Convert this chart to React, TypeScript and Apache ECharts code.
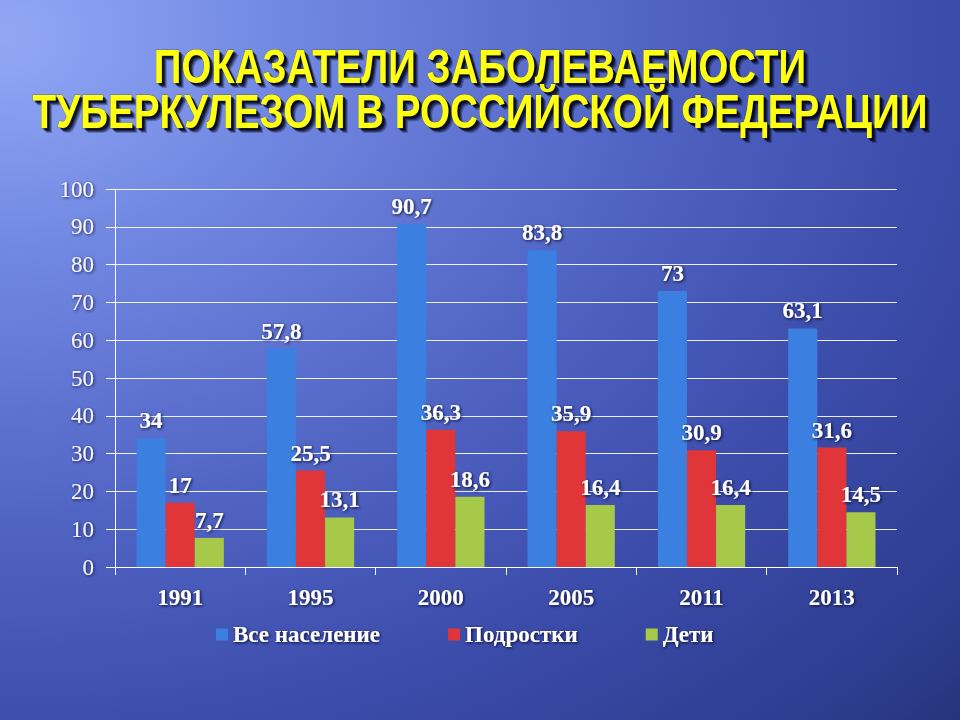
import React, { useEffect, useRef } from "react";
import * as echarts from "echarts";

const titleLines = ["ПОКАЗАТЕЛИ ЗАБОЛЕВАЕМОСТИ", "ТУБЕРКУЛЕЗОМ В РОССИЙСКОЙ ФЕДЕРАЦИИ"];
const years = ["1991", "1995", "2000", "2005", "2011", "2013"];
const seriesNames = ["Все население", "Подростки", "Дети"];
const allPopulation = [34, 57.8, 90.7, 83.8, 73, 63.1];
const teenagers = [17, 25.5, 36.3, 35.9, 30.9, 31.6];
const children = [7.7, 13.1, 18.6, 16.4, 16.4, 14.5];
const yMin = 0;
const yMax = 100;
const yInterval = 10;

const colors = ["#3b7fe0", "#e0363a", "#a6c94a"];
const serif = "'Liberation Serif', 'Times New Roman', serif";

const labelStyle = {
  color: "#ffffff",
  fontFamily: serif,
  fontWeight: "bold" as const,
  fontSize: 23,
  textShadowColor: "rgba(10,10,40,0.95)",
  textShadowBlur: 3,
  textShadowOffsetX: 1,
  textShadowOffsetY: 1,
};

const titleFont = "bold 48px 'Liberation Sans', Arial, sans-serif";
const titleY = [90, 135];
const titleScaleX = [0.8, 0.805];
const shadowLayers = [
  { dx: 5, dy: 5, c: "rgba(0,0,20,0.25)" },
  { dx: 4, dy: 4, c: "rgba(0,0,20,0.35)" },
  { dx: 3, dy: 3, c: "rgba(0,0,20,0.5)" },
  { dx: 2, dy: 2, c: "rgba(0,0,20,0.6)" },
];

export default function App() {
  const ref = useRef<HTMLDivElement>(null);
  useEffect(() => {
    if (!ref.current) return;
    const chart = echarts.init(ref.current, null, { renderer: "svg" });
    const dataSets = [allPopulation, teenagers, children];
    const titleGraphics: any[] = [];
    titleLines.forEach((t, i) => {
      shadowLayers.forEach((s) => {
        titleGraphics.push({
          type: "text",
          x: 480 + s.dx,
          y: titleY[i] + s.dy,
          scaleX: titleScaleX[i],
          silent: true,
          style: {
            text: t,
            fill: s.c,
            font: titleFont,
            textAlign: "center",
            textVerticalAlign: "bottom",
          },
        });
      });
      titleGraphics.push({
        type: "text",
        x: 480,
        y: titleY[i],
        scaleX: titleScaleX[i],
        style: {
          text: t,
          fill: "#ffff14",
          font: titleFont,
          textAlign: "center",
          textVerticalAlign: "bottom",
          stroke: "rgba(60,60,0,0.5)",
          lineWidth: 0.8,
        },
      });
    });
    chart.setOption({
      animation: false,
      backgroundColor: {
        type: "radial",
        x: 0,
        y: 0.05,
        r: 1.5,
        colorStops: [
          { offset: 0, color: "#92a8f6" },
          { offset: 0.2, color: "#7188e2" },
          { offset: 0.45, color: "#5064c4" },
          { offset: 0.65, color: "#3c4cab" },
          { offset: 0.85, color: "#2d3c8e" },
          { offset: 1, color: "#1f2b68" },
        ],
      },
      graphic: titleGraphics,
      grid: { left: 115, right: 63, top: 189, bottom: 153, containLabel: false },
      legend: {
        left: 211,
        top: 618,
        itemWidth: 12,
        itemHeight: 12,
        itemGap: 68,
        icon: "rect",
        textStyle: { ...labelStyle, padding: [0, 0, 0, 0] },
        data: seriesNames,
      },
      xAxis: {
        type: "category",
        data: years,
        axisLine: { lineStyle: { color: "#ffffff", width: 1 } },
        axisTick: { show: true, length: 8, lineStyle: { color: "#ffffff" } },
        axisLabel: { ...labelStyle, margin: 19 },
      },
      yAxis: {
        type: "value",
        min: yMin,
        max: yMax,
        interval: yInterval,
        axisLine: { show: true, lineStyle: { color: "#ffffff" } },
        axisTick: { show: true, length: 9, lineStyle: { color: "#ffffff" } },
        splitLine: { lineStyle: { color: "rgba(255,255,255,0.9)", width: 1 } },
        axisLabel: {
          color: "#f4f4ff",
          fontFamily: serif,
          fontSize: 23,
          margin: 21,
          textShadowColor: "rgba(20,20,60,0.9)",
          textShadowBlur: 3,
          textShadowOffsetX: 1,
          textShadowOffsetY: 1,
        },
      },
      series: seriesNames.map((name, i) => ({
        name,
        type: "bar",
        data: dataSets[i],
        barGap: "0%",
        barCategoryGap: "33%",
        itemStyle: { color: colors[i] },
        label: {
          show: true,
          position: "top",
          distance: 6,
          ...labelStyle,
          formatter: (p: any) => String(p.value).replace(".", ","),
        },
      })),
    });
    return () => chart.dispose();
  }, []);
  return (
    <div
      ref={ref}
      style={{ position: "fixed", left: 0, top: 0, width: 960, height: 720 }}
    />
  );
}
